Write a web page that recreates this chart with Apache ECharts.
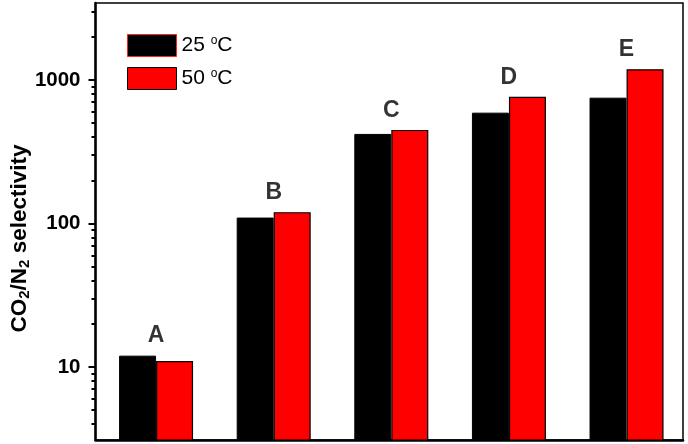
<!DOCTYPE html>
<html><head><meta charset="utf-8">
<script src="https://cdn.jsdelivr.net/npm/echarts@6/dist/echarts.min.js"></script>
<style>html,body{margin:0;padding:0;background:#fff}#c{width:688px;height:444px}</style>
</head><body><div id="c"></div>
<script>
const categories = ['A', 'B', 'C', 'D', 'E'];
const series25 = [12, 110, 421, 592, 753];
const series50 = [11, 120, 449, 765, 1189];
const majorTicks = [10, 100, 1000];
const minorTicks = [4, 5, 6, 7, 8, 9, 20, 30, 40, 50, 60, 70, 80, 90, 200, 300, 400, 500, 600, 700, 800, 900, 2000, 3000];
const seriesNames = ['25 °C', '50 °C'];

const yMin = 3.1, yMax = 3440;
const lg = v => Math.log10(v);
const chart = echarts.init(document.getElementById('c'));
const font = 'Liberation Sans, Arial, sans-serif';
const tickAxis = (ticks, len, withLabels) => ({
  type: 'value', min: lg(yMin), max: lg(yMax), position: 'left',
  axisLine: { show: false, onZero: false },
  axisTick: { show: true, length: len, lineStyle: { width: 2, color: '#000' }, customValues: ticks.map(lg) },
  axisLabel: withLabels ? { show: true, customValues: ticks.map(lg), formatter: v => String(Math.round(Math.pow(10, v))),
    fontFamily: font, fontWeight: 'bold', fontSize: 20.5, color: '#000', margin: 15 } : { show: false },
  splitLine: { show: false }
});
chart.setOption({
  animation: false,
  grid: { left: 93, right: 5, top: 3, bottom: 4, show: true, borderColor: '#000', borderWidth: 1.5, containLabel: false },
  legend: {
    left: 127, top: 34, orient: 'vertical', itemWidth: 49, itemHeight: 22, itemGap: 10, padding: 0, icon: 'rect',
    data: [
      { name: seriesNames[0], itemStyle: { borderColor: '#ff2020', borderWidth: 1 } },
      { name: seriesNames[1], itemStyle: { borderColor: '#000', borderWidth: 1 } }
    ],
    formatter: function (n) { return n.replace(' °C', ' {s|o}C'); },
    textStyle: { fontFamily: font, fontSize: 21, color: '#000',
      rich: { s: { fontFamily: font, fontSize: 12, verticalAlign: 'top', padding: [0,0,10,0], color: '#000' } } }
  },
  xAxis: {
    type: 'value', min: -0.515, max: 4.48,
    axisLine: { show: true, onZero: false, lineStyle: { color: '#000', width: 2.5 } },
    axisTick: { show: false }, axisLabel: { show: false }, splitLine: { show: false }
  },
  yAxis: [
    {
      type: 'log', min: yMin, max: yMax, logBase: 10, position: 'left',
      name: '{n|CO}{s|2}{n|/N}{s|2}{n| selectivity}', nameLocation: 'middle', nameGap: 63, nameRotate: 90,
      nameTextStyle: { padding: [0, 34, 0, 0], rich: {
        n: { fontFamily: font, fontWeight: 'bold', fontSize: 22.5, color: '#000' },
        s: { fontFamily: font, fontWeight: 'bold', fontSize: 15, color: '#000', verticalAlign: 'bottom', padding: [11,0,0,0] }
      } },
      axisLine: { show: true, onZero: false, lineStyle: { color: '#000', width: 2.5 } },
      axisTick: { show: false }, axisLabel: { show: false }, minorTick: { show: false },
      splitLine: { show: false }
    },
    tickAxis(majorTicks, 7, true),
    tickAxis(minorTicks, 4, false)
  ],
  series: [
    { name: seriesNames[0], type: 'bar', data: series25.map((v, i) => [i, v]), barWidth: 37, barGap: '0%',
      itemStyle: { color: '#000', borderColor: '#000', borderWidth: 1 } },
    { name: seriesNames[1], type: 'bar', data: series50.map((v, i) => [i, v]), barWidth: 37, barGap: '0%',
      itemStyle: { color: '#ff0000', borderColor: '#000', borderWidth: 1.2 } },
    { type: 'scatter', symbolSize: 0, silent: true,
      data: categories.map((c, i) => ({ value: [i, Math.max(series25[i], series50[i])], name: c })),
      label: { show: true, position: 'top', distance: 8, formatter: p => p.name,
        fontFamily: font, fontWeight: 'bold', fontSize: 23, color: '#000' } }
  ]
});
</script></body></html>
